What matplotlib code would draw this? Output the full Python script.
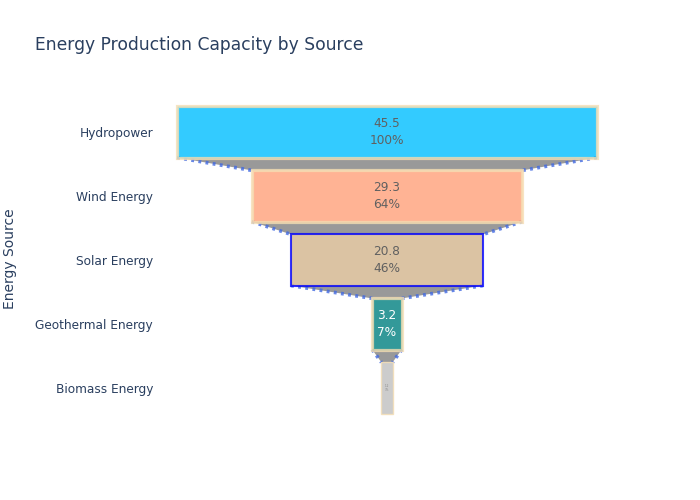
import matplotlib.pyplot as plt
from matplotlib.patches import Polygon

# data
sources = ['Hydropower', 'Wind Energy', 'Solar Energy', 'Geothermal Energy', 'Biomass Energy']
capacity = [45.5, 29.3, 20.8, 3.2, 1.2]
fill_colors = ['#00BFFF', '#FFA07A', '#D2B48C', '#008080', '#C0C0C0']
edge_colors = ['#F5DEB3', '#F5DEB3', '#0000FF', '#F5DEB3', '#F5DEB3']
edge_widths = [2.3, 2.3, 1.5, 2.3, 1.0]

text_col = '#2a3f5f'

fig = plt.figure(figsize=(7, 5), dpi=100)
ax = fig.add_axes([160/700, 80/500, 454/700, 320/500])

bar_h = 0.8
ypos = list(range(len(sources)))

# connectors between bars
for i in range(len(capacity) - 1):
    w0 = capacity[i] / 2
    w1 = capacity[i + 1] / 2
    y0 = ypos[i] + bar_h / 2
    y1 = ypos[i + 1] - bar_h / 2
    poly = Polygon([(-w0, y0), (w0, y0), (w1, y1), (-w1, y1)],
                   closed=True, facecolor='#999999', edgecolor='none', zorder=1)
    ax.add_patch(poly)
    for sgn in (-1, 1):
        ax.plot([sgn * w0, sgn * w1], [y0, y1], color='#4169E1', alpha=0.8, lw=2.6,
                linestyle=(0, (0.8, 1.2)), solid_capstyle='butt', zorder=2)

# bars
for i, v in enumerate(capacity):
    ax.barh(ypos[i], v, left=-v / 2, height=bar_h, color=fill_colors[i],
            edgecolor=edge_colors[i], linewidth=edge_widths[i], alpha=0.8, zorder=3)
    pct = round(v / capacity[0] * 100)
    label = f'{v}\n{pct}%'
    if v < 2:
        ax.text(0, ypos[i], label, ha='center', va='center', fontsize=2,
                color='#888888', zorder=4)
    else:
        tc = 'white' if fill_colors[i] == '#008080' else '#606060'
        ax.text(0, ypos[i], label, ha='center', va='center', fontsize=8.7,
                color=tc, linespacing=1.35, zorder=4)

ax.set_xlim(-24.6, 24.6)
ax.set_ylim(len(sources) - 0.5, -0.5)
ax.set_yticks(ypos)
ax.set_yticklabels(sources, fontsize=8.7, color=text_col)
ax.set_xticks([])
ax.tick_params(axis='y', length=0, pad=5)
for s in ax.spines.values():
    s.set_visible(False)

fig.text(35/700, 1 - 45/500, 'Energy Production Capacity by Source',
         fontsize=12.3, color=text_col, va='center', ha='left')
fig.text(10/700, 1 - 259/500, 'Energy Source', fontsize=10, color=text_col,
         rotation=90, va='center', ha='center')

fig.savefig('out.png', dpi=100)
